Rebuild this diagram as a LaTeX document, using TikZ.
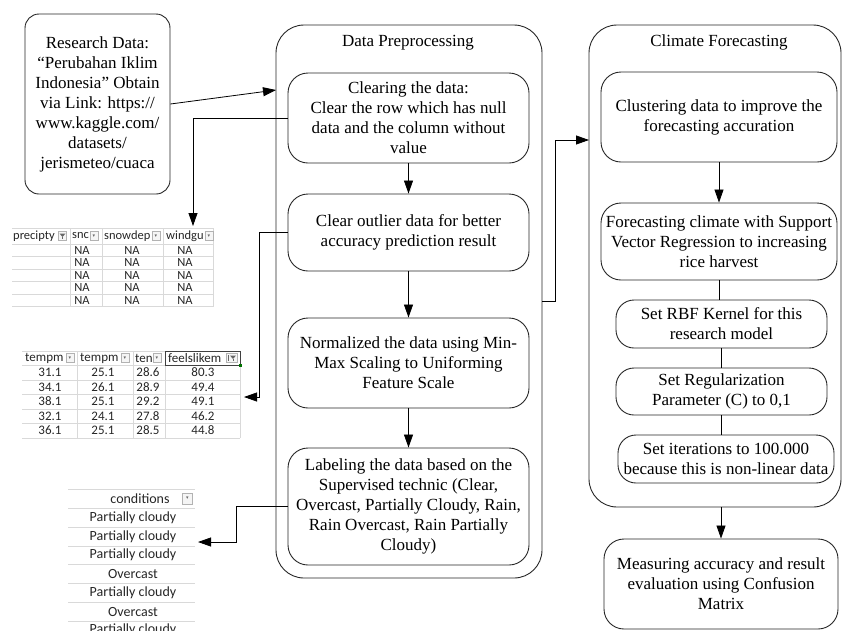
\documentclass[tikz,border=0pt]{standalone}
\usepackage{fontspec}
\setmainfont{Liberation Serif}
\newfontfamily\xlfont{Carlito}
\newfontfamily\symfont{DejaVu Sans}
\usetikzlibrary{arrows.meta}

\begin{document}
\begin{tikzpicture}[x=1pt, y=-1pt,
    procbox/.style={draw=black!85, line width=0.9pt, rounded corners=20pt, align=center, inner sep=0pt, font=\fontsize{17}{20}\selectfont},
    groupbox/.style={draw=black!85, line width=0.9pt, rounded corners=28pt, inner sep=0pt},
    grouptitle/.style={font=\fontsize{17}{20}\selectfont},
    arr/.style={-{Triangle[length=13pt,width=9pt]}, line width=0.8pt},
    link/.style={line width=0.8pt},
    cell/.style={font=\xlfont\fontsize{12.5}{14}\selectfont, text=black!85, inner sep=0pt},
    bigcell/.style={font=\xlfont\fontsize{14}{16}\selectfont, text=black!85, inner sep=0pt},
    grid/.style={draw=black!15, line width=0.6pt},
    dropicon/.style={draw=black!30, fill=black!4, line width=0.4pt, minimum width=8pt, minimum height=9pt, inner sep=0pt, font=\symfont\fontsize{5}{5}\selectfont, text=black!60},
  ]
  \useasboundingbox (0,0) rectangle (842,630);

  % source of the data
  \node[procbox, rounded corners=14pt, minimum width=145pt, minimum height=180pt] (research) at (97.5,104)
    {Research Data:\\“Perubahan Iklim\\Indonesia” Obtain\\via Link: https://\\www.kaggle.com/\\datasets/\\jerismeteo/cuaca};

  % the preprocessing group and its steps
  \node[groupbox, minimum width=266pt, minimum height=553pt] (prep) at (409,301.5) {};
  \node[grouptitle] (preptitle) at (408,43) {Data Preprocessing};
  \coordinate (prepin) at (276,90);

  \node[procbox, minimum width=241pt, minimum height=90pt] (clear) at (408.5,118)
    {Clearing the data:\\Clear the row which has null\\data and the column without\\value};
  \node[procbox, minimum width=241pt, minimum height=77pt] (outlier) at (408.5,232.5)
    {Clear outlier data for better\\accuracy prediction result};
  \node[procbox, minimum width=241pt, minimum height=90pt] (normal) at (408.5,363)
    {Normalized the data using Min-\\Max Scaling to Uniforming\\Feature Scale};
  \node[procbox, minimum width=241pt, minimum height=117pt] (label) at (408.5,506.5)
    {Labeling the data based on the\\Supervised technic (Clear,\\Overcast, Partially Cloudy, Rain,\\Rain Overcast, Rain Partially\\Cloudy)};

  % the forecasting group and its steps
  \node[groupbox, minimum width=252pt, minimum height=482pt] (clim) at (715,266) {};
  \node[grouptitle] (climtitle) at (719,42) {Climate Forecasting};
  \coordinate (climin) at (589,140);

  \node[procbox, minimum width=236pt, minimum height=90pt] (cluster) at (719,117)
    {Clustering data to improve the\\forecasting accuration};
  \node[procbox, minimum width=236pt, minimum height=77pt] (svr) at (719,241.5)
    {Forecasting climate with Support\\Vector Regression to increasing\\rice harvest};
  \node[procbox, rounded corners=18pt, minimum width=211pt, minimum height=48pt] (rbf) at (721.5,324)
    {Set RBF Kernel for this\\research model};
  \node[procbox, rounded corners=18pt, minimum width=211pt, minimum height=47pt] (reg) at (721.5,391.5)
    {Set Regularization\\Parameter (C) to 0,1};
  \node[procbox, rounded corners=18pt, minimum width=216pt, minimum height=48pt] (iter) at (726,459)
    {Set iterations to 100.000\\because this is non-linear data};
  \node[procbox, minimum width=234pt, minimum height=90pt] (measure) at (721,584)
    {Measuring accuracy and result\\evaluation using Confusion\\Matrix};

  % table with the empty columns
  \coordinate (tabAin) at (193,226);
  \foreach \y in {228,244,256.5,269,281.5,294,306.5}
    \draw[grid] (12,\y) -- (213,\y);
  \foreach \x in {70,102,163,213}
    \draw[grid] (\x,228) -- (\x,306.5);
  \node[cell, anchor=west] (hA1) at (13,236) {precipty};
  \node[cell, anchor=west] (hA2) at (72,236) {snc};
  \node[cell, anchor=west] (hA3) at (104,236) {snowdep};
  \node[cell, anchor=west] (hA4) at (166,236) {windgu};
  \node[dropicon] (iA1) at (62.5,236) {};
  \fill[black!60] (59.5,233.5) -- (65.5,233.5) -- (62.5,237) -- cycle;
  \draw[black!60, line width=0.8pt] (62.5,236.5) -- (62.5,239);
  \node[dropicon] (iA2) at (94,236) {▾};
  \node[dropicon] (iA3) at (156,236) {▾};
  \node[dropicon] (iA4) at (209,236) {▾};
  \foreach \y in {250,262.5,275,287.5,300} {
    \node[cell] at (82,\y) {NA};
    \node[cell] at (132,\y) {NA};
    \node[cell] at (185,\y) {NA};
  }

  % table with the temperatures
  \coordinate (tabBin) at (244,397);
  \foreach \y in {351,365,380,394.5,409,423.5,438}
    \draw[grid] (22,\y) -- (240,\y);
  \foreach \x in {77,133,165,240}
    \draw[grid] (\x,351) -- (\x,438);
  \node[cell, font=\xlfont\fontsize{13}{14}\selectfont, anchor=west] (hB1) at (25,358) {tempm};
  \node[cell, font=\xlfont\fontsize{13}{14}\selectfont, anchor=west] (hB2) at (80,358) {tempm};
  \node[cell, font=\xlfont\fontsize{13}{14}\selectfont, anchor=west] (hB3) at (135,358) {ten};
  \node[cell, font=\xlfont\fontsize{13}{14}\selectfont, anchor=west] (hB4) at (168,358) {feelslikem};
  \node[dropicon] (iB1) at (70,358) {▾};
  \node[dropicon] (iB2) at (125,358) {▾};
  \node[dropicon] (iB3) at (157,358) {▾};
  \node[dropicon, minimum width=11pt] (iB4) at (232,358) {};
  \fill[black!60] (230,355.5) -- (236,355.5) -- (233,359) -- cycle;
  \draw[black!60, line width=0.7pt] (233,358.5) -- (233,361);
  \draw[black!60, line width=0.5pt] (228,355) -- (228,361);
  \draw[black!75, line width=0.8pt] (165,351) rectangle (240,365);
  \fill[green!45!black] (238.5,363.5) rectangle (241.5,366.5);
  \foreach \y/\a/\b/\c/\d in {372.5/31.1/25.1/28.6/80.3, 387/34.1/26.1/28.9/49.4,
      401.5/38.1/25.1/29.2/49.1, 416/32.1/24.1/27.8/46.2, 430.5/36.1/25.1/28.5/44.8} {
    \node[cell, font=\xlfont\fontsize{13}{14}\selectfont] at (50,\y) {\a};
    \node[cell, font=\xlfont\fontsize{13}{14}\selectfont] at (103,\y) {\b};
    \node[cell, font=\xlfont\fontsize{13}{14}\selectfont] at (148,\y) {\c};
    \node[cell, font=\xlfont\fontsize{13}{14}\selectfont] at (203,\y) {\d};
  }

  % table with the labels
  \coordinate (tabCin) at (198,542);
  \foreach \y in {489,508,527,546,564.5,583,602,621}
    \draw[grid] (68,\y) -- (195,\y);
  \node[bigcell] (hC1) at (140,498.5) {conditions};
  \node[dropicon, minimum width=10pt, minimum height=11pt] (iC1) at (187.5,498.5) {▾};
  \foreach \y/\t in {517.5/Partially cloudy, 536.5/Partially cloudy, 555/Partially cloudy,
      574/Overcast, 592.5/Partially cloudy, 611.5/Overcast, 630/Partially cloudy}
    \node[bigcell] at (133,\y) {\t};

  % connectors
  \draw[arr] (research.east) -- (prepin);
  \draw[arr] (clear.west) -| (tabAin);
  \draw[arr] (clear.south) -- (outlier.north);
  \draw[arr] (outlier.west) -- ++(-28,0) |- (tabBin);
  \draw[arr] (outlier.south) -- (normal.north);
  \draw[arr] (normal.south) -- (label.north);
  \draw[arr] (label.west) -- ++(-51,0) |- (tabCin);
  \draw[arr] (prep.east) -- ++(13,0) |- (climin);

  \draw[arr] (cluster.south) -- (svr.north);
  \draw[link] (svr.south) -- (svr.south |- rbf.north);
  \draw[link] (rbf.south) -- (rbf.south |- reg.north);
  \draw[link] (reg.south) -- (reg.south |- iter.north);
  \draw[arr] (clim.south -| measure.north) -- (measure.north);
\end{tikzpicture}
\end{document}
